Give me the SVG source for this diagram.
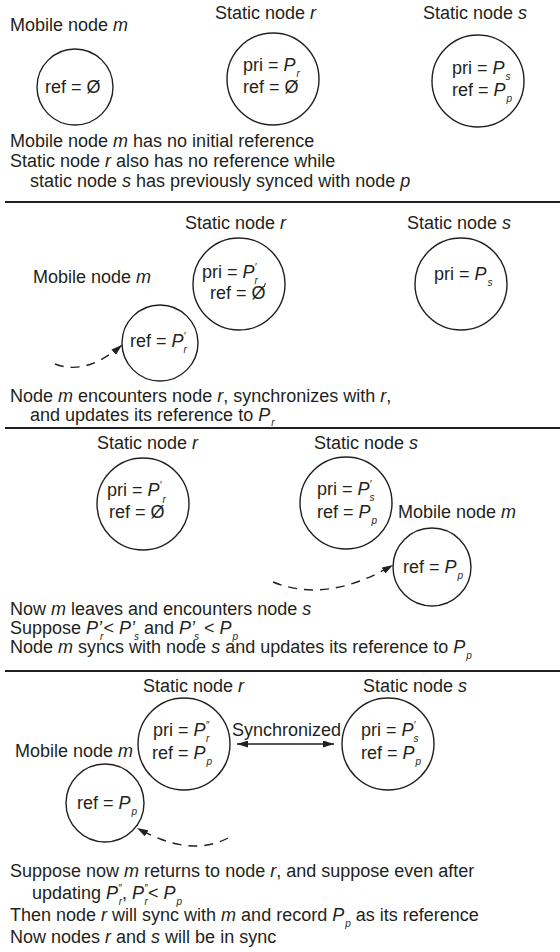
<svg xmlns="http://www.w3.org/2000/svg" width="560" height="952" viewBox="0 0 560 952">
<defs>
<style>
text{font-family:"Liberation Sans",Arial,Helvetica,sans-serif;font-size:18px;fill:#231f20}
.i{font-style:italic}
.s{font-size:10px;font-style:italic}
.p{font-size:10px;font-style:italic}
circle.n{fill:none;stroke:#231f20;stroke-width:1.4}
.sep{stroke:#231f20;stroke-width:2}
.dash{fill:none;stroke:#231f20;stroke-width:1.4;stroke-dasharray:9 7}
.arr{fill:none;stroke:#231f20;stroke-width:1.4}
</style>
<marker id="ah" viewBox="0 0 11 7" refX="11" refY="3.5" markerWidth="11" markerHeight="7" markerUnits="userSpaceOnUse" orient="auto-start-reverse"><path d="M0,0 L11,3.5 L0,7 z" fill="#231f20"/></marker>
</defs>
<rect width="560" height="952" fill="#fff"/>

<!-- Panel 1 -->
<g id="p1-m">
<text x="10" y="31">Mobile node <tspan class="i">m</tspan></text>
<circle class="n" cx="75" cy="87" r="38"/>
<text x="45" y="93">ref = Ø</text>
</g>
<g id="p1-r">
<text x="215" y="19">Static node <tspan class="i">r</tspan></text>
<circle class="n" cx="273" cy="79" r="46"/>
<text x="243" y="71">pri = <tspan class="i">P</tspan><tspan class="s" dx="1" dy="6">r</tspan></text>
<text x="243" y="93">ref = Ø</text>
</g>
<g id="p1-s">
<text x="423" y="19">Static node <tspan class="i">s</tspan></text>
<circle class="n" cx="478" cy="81" r="46"/>
<text x="452" y="74">pri = <tspan class="i">P</tspan><tspan class="s" dx="1" dy="6">s</tspan></text>
<text x="452" y="96">ref = <tspan class="i">P</tspan><tspan class="s" dx="1" dy="6">p</tspan></text>
</g>
<g id="p1-caption">
<text x="10" y="147">Mobile node <tspan class="i">m</tspan> has no initial reference</text>
<text x="10" y="167">Static node <tspan class="i">r</tspan> also has no reference while</text>
<text x="30" y="187">static node <tspan class="i">s</tspan> has previously synced with node <tspan class="i">p</tspan></text>
</g>

<!-- Panel 2 -->
<g id="p2-r">
<text x="185" y="229">Static node <tspan class="i">r</tspan></text>
<circle class="n" cx="239" cy="284" r="46"/>
<text x="202" y="278">pri = <tspan class="i">P</tspan><tspan class="p" dy="-7">′</tspan><tspan class="s" dx="-2" dy="13">r</tspan></text>
<text x="210" y="299">ref = Ø</text>
<path d="M264 287 l1.5 -4" stroke="#231f20" stroke-width="1"/>
</g>
<g id="p2-s">
<text x="407" y="229">Static node <tspan class="i">s</tspan></text>
<circle class="n" cx="461" cy="284" r="46"/>
<text x="434" y="280">pri = <tspan class="i">P</tspan><tspan class="s" dx="1" dy="6">s</tspan></text>
</g>
<g id="p2-m">
<text x="33" y="283">Mobile node <tspan class="i">m</tspan></text>
<circle class="n" cx="160" cy="343" r="38"/>
<text x="130" y="347">ref = <tspan class="i">P</tspan><tspan class="p" dy="-7">′</tspan><tspan class="s" dx="-2" dy="13">r</tspan></text>
</g>
<g id="p2-caption">
<text x="10" y="402">Node <tspan class="i">m</tspan> encounters node <tspan class="i">r</tspan>, synchronizes with <tspan class="i">r</tspan>,</text>
<text x="30" y="421">and updates its reference to <tspan class="i">P</tspan><tspan class="s" dx="1" dy="5">r</tspan></text>
</g>

<!-- Panel 3 -->
<g id="p3-r">
<text x="97" y="449">Static node <tspan class="i">r</tspan></text>
<circle class="n" cx="143" cy="504" r="46"/>
<text x="107" y="496">pri = <tspan class="i">P</tspan><tspan class="p" dy="-7">′</tspan><tspan class="s" dx="1" dy="14">r</tspan></text>
<text x="109" y="518">ref = Ø</text>
</g>
<g id="p3-s">
<text x="314" y="449">Static node <tspan class="i">s</tspan></text>
<circle class="n" cx="346" cy="503" r="46"/>
<text x="317" y="495">pri = <tspan class="i">P</tspan><tspan class="p" dy="-7">′</tspan><tspan class="s" dx="-2" dy="13">s</tspan></text>
<text x="317" y="518">ref = <tspan class="i">P</tspan><tspan class="s" dx="1" dy="6">p</tspan></text>
</g>
<g id="p3-m">
<text x="398" y="518">Mobile node <tspan class="i">m</tspan></text>
<circle class="n" cx="432" cy="567" r="39"/>
<text x="403" y="573">ref = <tspan class="i">P</tspan><tspan class="s" dx="1" dy="6">p</tspan></text>
</g>
<g id="p3-caption">
<text x="10" y="615">Now <tspan class="i">m</tspan> leaves and encounters node <tspan class="i">s</tspan></text>
<text x="10" y="634">Suppose <tspan class="i">P’</tspan><tspan class="s" dx="-2" dy="6">r</tspan><tspan dy="-6">&lt; </tspan><tspan class="i">P’</tspan><tspan class="s" dx="-1" dy="6">s</tspan><tspan dy="-6"> and </tspan><tspan class="i">P’</tspan><tspan class="s" dx="-1" dy="6">s</tspan><tspan dy="-6"> &lt; </tspan><tspan class="i">P</tspan><tspan class="s" dx="1" dy="6">p</tspan></text>
<text x="10" y="653">Node <tspan class="i">m</tspan> syncs with node <tspan class="i">s</tspan> and updates its reference to <tspan class="i">P</tspan><tspan class="s" dx="1" dy="6">p</tspan></text>
</g>

<!-- Panel 4 -->
<g id="p4-r">
<text x="143" y="692">Static node <tspan class="i">r</tspan></text>
<circle class="n" cx="184" cy="744" r="46"/>
<text x="153" y="736">pri = <tspan class="i">P</tspan><tspan class="p" dy="-7">″</tspan><tspan class="s" dx="-3" dy="13">r</tspan></text>
<text x="152" y="759">ref = <tspan class="i">P</tspan><tspan class="s" dx="1" dy="6">p</tspan></text>
</g>
<g id="p4-s">
<text x="363" y="692">Static node <tspan class="i">s</tspan></text>
<circle class="n" cx="388" cy="744" r="46"/>
<text x="361" y="736">pri = <tspan class="i">P</tspan><tspan class="p" dy="-7">′</tspan><tspan class="s" dx="-2" dy="13">s</tspan></text>
<text x="361" y="759">ref = <tspan class="i">P</tspan><tspan class="s" dx="1" dy="6">p</tspan></text>
</g>
<g id="p4-m">
<text x="15" y="757">Mobile node <tspan class="i">m</tspan></text>
<circle class="n" cx="105" cy="803" r="39"/>
<text x="77" y="809">ref = <tspan class="i">P</tspan><tspan class="s" dx="1" dy="6">p</tspan></text>
</g>
<g id="p4-sync-label">
<text x="232" y="736">Synchronized</text>
</g>
<g id="p4-caption">
<text x="10" y="877">Suppose now <tspan class="i">m</tspan> returns to node <tspan class="i">r</tspan>, and suppose even after</text>
<text x="32" y="899">updating <tspan class="i">P</tspan><tspan class="p" dy="-7">″</tspan><tspan class="s" dx="-3" dy="13">r</tspan><tspan dy="-6">, </tspan><tspan class="i">P</tspan><tspan class="p" dy="-7">″</tspan><tspan class="s" dx="-3" dy="13">r</tspan><tspan dy="-6">&lt; </tspan><tspan class="i">P</tspan><tspan class="s" dx="1" dy="6">p</tspan></text>
<text x="10" y="921">Then node <tspan class="i">r</tspan> will sync with <tspan class="i">m</tspan> and record <tspan class="i">P</tspan><tspan class="s" dx="1" dy="6">p</tspan><tspan dy="-6"> as its reference</tspan></text>
<text x="10" y="943">Now nodes <tspan class="i">r</tspan> and <tspan class="i">s</tspan> will be in sync</text>
</g>

<!-- Connectors -->
<g id="connectors">
<line class="sep" x1="5" y1="202" x2="560" y2="202"/>
<line class="sep" x1="5" y1="428" x2="560" y2="428"/>
<line class="sep" x1="5" y1="671" x2="560" y2="671"/>
<path class="dash" d="M55 364 Q86 376 122 345" marker-end="url(#ah)"/>
<path class="dash" d="M273 582 Q327 604 393 565" marker-end="url(#ah)"/>
<path class="dash" d="M228 838 Q190 858 137 828" marker-end="url(#ah)"/>
<line class="arr" x1="237" y1="744" x2="334" y2="744" marker-start="url(#ah)" marker-end="url(#ah)"/>
</g>
</svg>
